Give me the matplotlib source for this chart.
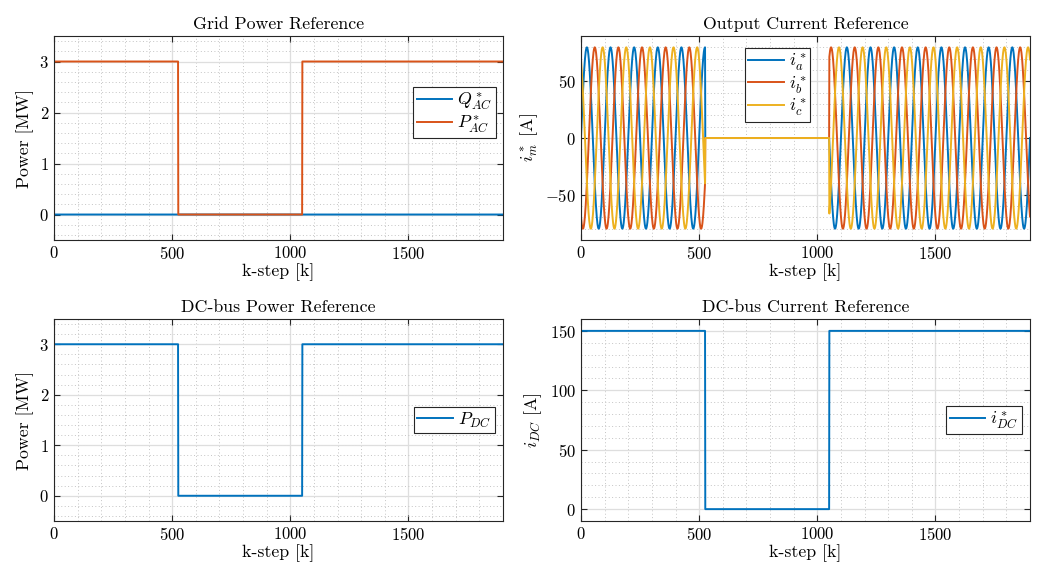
import numpy as np
import matplotlib
matplotlib.use("Agg")
import matplotlib.pyplot as plt
from matplotlib.ticker import MultipleLocator

plt.rcParams["font.family"] = "serif"
plt.rcParams["font.serif"] = ["cmr10"]
plt.rcParams["mathtext.fontset"] = "cm"
plt.rcParams["axes.formatter.use_mathtext"] = True

# Reference profile
k_end = 1900          # last k-step shown
k_off = 525           # last step before the converter is switched off
k_on = 1050           # last step of the off interval
p_ac_ref = 3.0        # MW
q_ac_ref = 0.0        # MW
p_dc_ref = 3.0        # MW
idc_ref = 150.0       # A
i_amp = 80.0          # A, phase current amplitude
i_period = 100        # k-steps per electrical period
phase_shift = [0, -120, 120]   # deg, a / b / c

blue, red, yellow = "#0072BD", "#D95319", "#EDB120"
edge = "#262626"

k = np.arange(0, k_end + 1)
on = (k <= k_off) | (k > k_on)

p_ac = np.where(on, p_ac_ref, 0.0)
q_ac = np.full_like(k, q_ac_ref, dtype=float)
p_dc = np.where(on, p_dc_ref, 0.0)
i_dc = np.where(on, idc_ref, 0.0)
theta = 2 * np.pi * k / i_period
i_abc = [np.where(on, i_amp * np.sin(theta + np.deg2rad(s)), 0.0) for s in phase_shift]


def style(ax, ylim, ymajor, yminor, ylabel, title):
    ax.set_xlim(0, k_end)
    ax.set_ylim(*ylim)
    ax.xaxis.set_major_locator(MultipleLocator(500))
    ax.xaxis.set_minor_locator(MultipleLocator(100))
    ax.yaxis.set_major_locator(MultipleLocator(ymajor))
    ax.yaxis.set_minor_locator(MultipleLocator(yminor))
    ax.grid(which="major", color="#dedede", lw=0.9)
    ax.grid(which="minor", color="#c4c4c4", lw=0.7, ls=(0, (1, 2.5)))
    ax.set_axisbelow(True)
    ax.tick_params(which="both", direction="in", top=True, right=True,
                   colors=edge, labelcolor="black", labelsize=12)
    ax.tick_params(which="major", length=4)
    ax.tick_params(which="minor", length=0)
    for s in ax.spines.values():
        s.set_color(edge)
        s.set_linewidth(0.8)
    ax.set_xlabel("k-step [k]", fontsize=12.8, labelpad=1)
    ax.set_ylabel(ylabel, fontsize=12.8, labelpad=4)
    ax.set_title(title, fontsize=12.8, pad=5)


def legend(ax, **kw):
    leg = ax.legend(fontsize=12.8, fancybox=False, framealpha=1, edgecolor=edge,
                    borderaxespad=0, handlelength=2.0, handletextpad=0.3,
                    borderpad=0.2, labelspacing=0.05, **kw)
    leg.get_frame().set_linewidth(0.8)


fig = plt.figure(figsize=(10.38, 5.67), dpi=100)
w, h_top, h_bot = 0.4326, 0.3598, 0.3563
ax_grid = fig.add_axes([0.0520, 0.5767, w, h_top])
ax_iabc = fig.add_axes([0.5597, 0.5767, w, h_top])
ax_pdc = fig.add_axes([0.0520, 0.0811, w, h_bot])
ax_idc = fig.add_axes([0.5597, 0.0811, w, h_bot])

lw = 1.4
ax_grid.plot(k, q_ac, color=blue, lw=lw, label=r"$Q^*_{AC}$")
ax_grid.plot(k, p_ac, color=red, lw=lw, label=r"$P^*_{AC}$")
style(ax_grid, (-0.5, 3.5), 1, 0.2, "Power [MW]", "Grid Power Reference")
legend(ax_grid, loc="center right", bbox_to_anchor=(0.984, 0.625))

for ia, c, name in zip(i_abc, [blue, red, yellow], ["a", "b", "c"]):
    ax_iabc.plot(k, ia, color=c, lw=lw, label=rf"$i^*_{name}$")
style(ax_iabc, (-90, 90), 50, 10, r"$i^*_m$ [A]", "Output Current Reference")
legend(ax_iabc, loc="upper center", bbox_to_anchor=(0.4375, 0.943))

ax_pdc.plot(k, p_dc, color=blue, lw=lw, label=r"$P_{DC}$")
style(ax_pdc, (-0.5, 3.5), 1, 0.2, "Power [MW]", "DC-bus Power Reference")
legend(ax_pdc, loc="center right", bbox_to_anchor=(0.982, 0.50))

ax_idc.plot(k, i_dc, color=blue, lw=lw, label=r"$i^*_{DC}$")
style(ax_idc, (-10, 160), 50, 10, r"$i_{DC}$ [A]", "DC-bus Current Reference")
legend(ax_idc, loc="center right", bbox_to_anchor=(0.982, 0.50))

fig.savefig("out.png", dpi=100)
